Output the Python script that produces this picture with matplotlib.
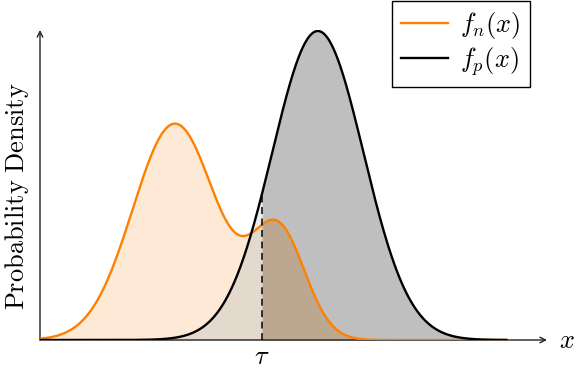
import numpy as np
import matplotlib
matplotlib.use("Agg")
import matplotlib.pyplot as plt

plt.rcParams["mathtext.fontset"] = "cm"
plt.rcParams["font.family"] = "serif"
plt.rcParams["font.serif"] = ["DejaVu Serif"]

# Gaussian components (mean, sigma, peak height)
neg_means = [2.66, 4.70]
neg_sigmas = [0.83, 0.53]
neg_heights = [0.70, 0.35]

pos_means = [5.48]
pos_sigmas = [0.90]
pos_heights = [1.0]

TAU = 4.38
X_MAX = 10.0


def mixture(x, means, sigmas, heights):
    y = np.zeros_like(x)
    for m, s, h in zip(means, sigmas, heights):
        y += h * np.exp(-0.5 * ((x - m) / s) ** 2)
    return y


x = np.linspace(0, 9.2, 2000)
fn = mixture(x, neg_means, neg_sigmas, neg_heights)
fp = mixture(x, pos_means, pos_sigmas, pos_heights)
left = x <= TAU
right = x >= TAU

fig = plt.figure(figsize=(5.76, 3.72), dpi=100)
ax = fig.add_axes([40 / 576, 32 / 372, 507 / 576, 310 / 372])
ax.set_xlim(0, X_MAX)
ax.set_ylim(0, 1.0 * 310 / 309)

# fills
ax.fill_between(x, 0, fp, where=left, color="#ececec", lw=0)
ax.fill_between(x, 0, fn, where=left, color="#fde9d6", lw=0)
ax.fill_between(x, 0, np.minimum(fn, fp), where=left, color="#e4d9cd", lw=0)
ax.fill_between(x, 0, fp, where=right, color="#bfbfbf", lw=0)
ax.fill_between(x, 0, np.minimum(fn, fp), where=right, color="#bca890", lw=0)

ax.plot(x, fn, color="#ff8000", lw=1.7, label=r"$f_n(x)$", zorder=4)
ax.plot(x, fp, color="black", lw=1.7, label=r"$f_p(x)$", zorder=5)

tau_top = mixture(np.array([TAU]), pos_means, pos_sigmas, pos_heights)[0]
ax.plot([TAU, TAU], [0, tau_top], color="black", lw=1.1, ls=(0, (4.5, 3)), zorder=6)

# axes with arrows
for s in ax.spines.values():
    s.set_visible(False)
ax.set_xticks([])
ax.set_yticks([])
ax.patch.set_alpha(0)
arrow = dict(arrowstyle="->", lw=1.0, color="#222222", shrinkA=0, shrinkB=0)
ax.annotate("", xy=(1, 0), xytext=(0, 0), xycoords="axes fraction", arrowprops=arrow, zorder=3)
ax.annotate("", xy=(0, 1), xytext=(0, 0), xycoords="axes fraction", arrowprops=arrow, zorder=3)

fig.text(567 / 576, 1 - 340 / 372, r"$x$", fontsize=19, ha="center", va="center")
ax.text(TAU, -0.055, r"$\tau$", fontsize=19, ha="center", va="center")
fig.text(17 / 576, 1 - 196 / 372, r"$\mathrm{Probability\ Density}$", fontsize=19,
         rotation=90, ha="center", va="center")

leg = fig.legend(loc="upper right", bbox_to_anchor=(530 / 576, 1 - 1 / 372), fontsize=19,
                 fancybox=False, edgecolor="black", framealpha=1, handlelength=1.8,
                 borderaxespad=0, labelspacing=0.15, handletextpad=0.45, borderpad=0.35)
leg.get_frame().set_linewidth(1.0)

fig.savefig("out.png", dpi=100)
